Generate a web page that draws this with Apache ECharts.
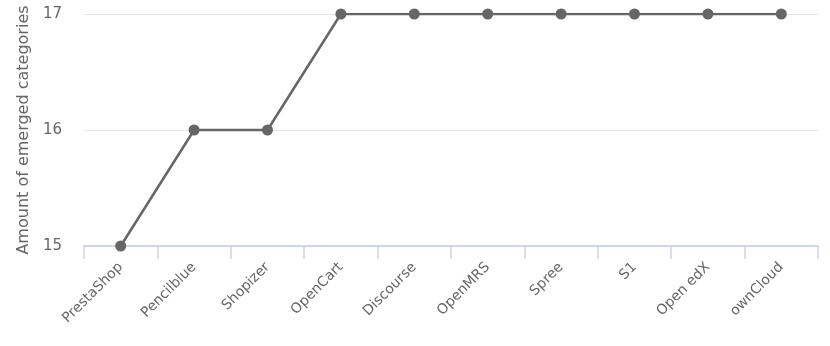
<!DOCTYPE html>
<html><head><meta charset="utf-8">
<script src="https://cdn.jsdelivr.net/npm/echarts@6/dist/echarts.min.js"></script>
<style>html,body{margin:0;padding:0;background:#fff}#c{width:830px;height:346px}</style>
</head><body><div id="c"></div>
<script>
const categories = ["PrestaShop","Pencilblue","Shopizer","OpenCart","Discourse","OpenMRS","Spree","S1","Open edX","ownCloud"];
const values = [15,16,16,17,17,17,17,17,17,17];
const yTicks = [15,16,17];
const yName = "Amount of emerged categories";

const chart = echarts.init(document.getElementById('c'), null, {renderer:'canvas'});
chart.setOption({
  animation:false,
  grid:{left:84,right:12,top:14,bottom:100,containLabel:false},
  xAxis:{type:'category',data:categories,boundaryGap:true,
    axisLine:{lineStyle:{color:'#ccd6eb',width:2}},
    axisTick:{show:true,length:13,lineStyle:{color:'#ccd6eb',width:1.5},alignWithLabel:false},
    axisLabel:{rotate:45,color:'#666',fontFamily:'DejaVu Sans',fontSize:14,margin:19,interval:0}},
  yAxis:{type:'value',min:yTicks[0],max:yTicks[yTicks.length-1],interval:1,
    name:yName,nameLocation:'middle',nameGap:52,nameRotate:90,
    nameTextStyle:{color:'#666',fontFamily:'DejaVu Sans',fontSize:16},
    axisLine:{show:false},axisTick:{show:false},
    axisLabel:{color:'#666',fontFamily:'DejaVu Sans',fontSize:15,margin:22},
    splitLine:{lineStyle:{color:'#e6e6e6',width:1}}},
  series:[{type:'line',data:values,symbol:'circle',symbolSize:11,
    lineStyle:{color:'#666',width:2.5},itemStyle:{color:'#666'}}]
});
</script></body></html>
